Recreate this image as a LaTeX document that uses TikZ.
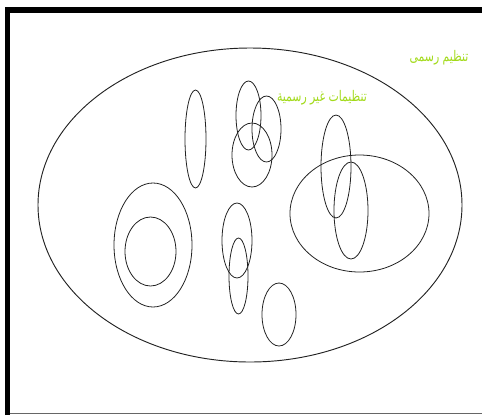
\documentclass[tikz,border=0pt]{standalone}
\usepackage{fontspec}
\newfontfamily\arabicfont[Script=Arabic]{DejaVu Sans}
\TeXXeTstate=1
\definecolor{ink}{HTML}{222222}
\definecolor{labelgreen}{HTML}{A2DA1A}
\definecolor{rulegray}{HTML}{666666}
\newcommand{\narrowtext}[1]{\scalebox{.74}[1]{\beginR #1\endR}}

\begin{document}
\begin{tikzpicture}[
  x=0.75pt,y=-0.75pt,
  blob/.style={draw=ink,line width=.6pt},
  border/.style={draw=black,line cap=butt},
  grouplabel/.style={text=labelgreen,font=\arabicfont\fontsize{11}{12}\selectfont,inner sep=0pt}
]
  \useasboundingbox (0,0) rectangle (482,415);

  % frame
  \draw[border,line width=3.75pt] (7.5,415) -- (7.5,7);
  \draw[border,line width=4.5pt] (5,10) -- (482,10);
  \draw[draw=rulegray,line width=.75pt] (10,413.5) -- (482,413.5);

  % formal organisation
  \draw[blob,line width=.7pt] (250,205) ellipse [x radius=212,y radius=157];

  % informal groups
  \draw[blob] (153,245) ellipse [x radius=39,y radius=62];
  \draw[blob] (150.5,251.5) ellipse [x radius=25.5,y radius=34.5];
  \draw[blob] (195.5,139) ellipse [x radius=10.5,y radius=49];
  \draw[blob] (248.5,115.5) ellipse [x radius=12.5,y radius=34.5];
  \draw[blob] (266.5,129) ellipse [x radius=14.5,y radius=33];
  \draw[blob] (252,155) ellipse [x radius=20,y radius=32];
  \draw[blob] (237,240.5) ellipse [x radius=15,y radius=37.5];
  \draw[blob] (238.5,276) ellipse [x radius=9.5,y radius=38];
  \draw[blob] (279,314.5) ellipse [x radius=17,y radius=31.5];
  \draw[blob] (359.5,213.5) ellipse [x radius=69.5,y radius=58.5];
  \draw[blob] (336,166.5) ellipse [x radius=15,y radius=51.5];
  \draw[blob] (351,210.5) ellipse [x radius=17,y radius=48.5];

  \node[grouplabel] (formal) at (439,58) {\narrowtext{تنظیم رسمی}};
  \node[grouplabel] (informal) at (322,98) {\narrowtext{تنظیمات غیر رسمیة}};
\end{tikzpicture}
\end{document}
